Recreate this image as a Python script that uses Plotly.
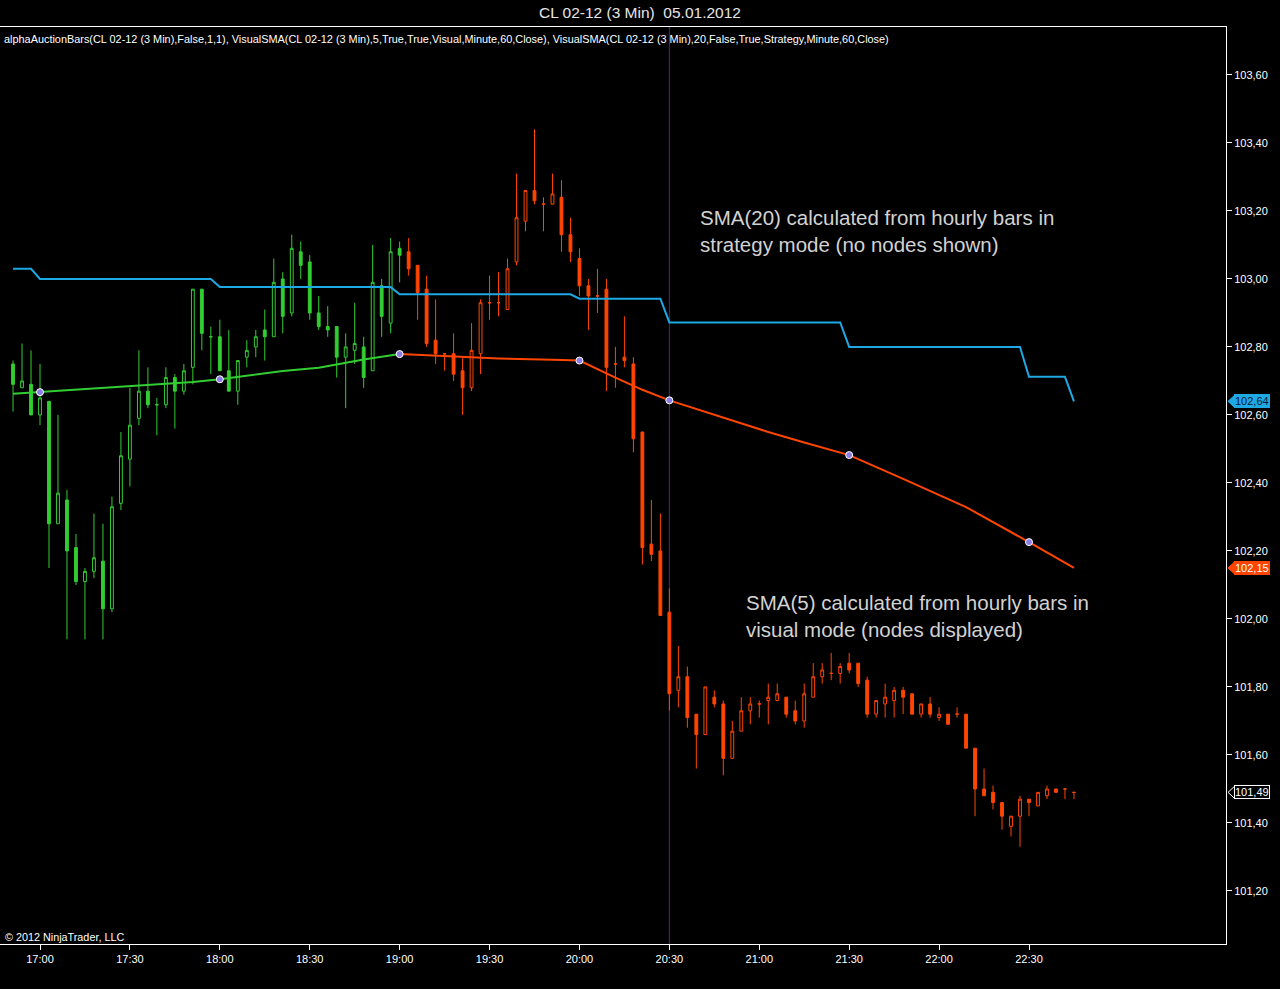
import pandas as pd
import plotly.graph_objects as go

# ---------------- data ----------------
bar_times = pd.date_range("2012-01-05 16:51", periods=119, freq="3min")

opens = [102.75,102.68,102.69,102.60,102.64,102.28,102.35,102.21,102.11,102.14,
         102.17,102.03,102.34,102.47,102.59,102.67,102.63,102.63,102.71,102.67,
         102.74,102.97,102.83,102.83,102.73,102.67,102.77,102.80,102.85,102.83,
         103.00,102.90,103.08,103.05,102.90,102.86,102.86,102.77,102.79,102.80,
         102.73,102.98,102.87,103.09,103.08,103.04,102.97,102.82,102.78,102.78,
         102.73,102.68,102.78,102.93,102.93,102.91,103.05,103.17,103.26,103.22,
         103.22,103.24,103.13,103.06,102.98,102.95,102.97,102.75,102.77,102.75,
         102.55,102.22,102.20,102.02,101.79,101.83,101.72,101.66,101.77,101.75,
         101.59,101.67,101.73,101.75,101.76,101.76,101.77,101.73,101.70,101.77,
         101.83,101.84,101.84,101.87,101.87,101.82,101.72,101.75,101.76,101.79,
         101.78,101.72,101.75,101.71,101.72,101.72,101.72,101.62,101.50,101.49,
         101.46,101.39,101.42,101.47,101.45,101.48,101.50,101.50,101.49]
highs = [102.76,102.81,102.79,102.75,102.64,102.60,102.38,102.25,102.15,102.31,
         102.28,102.36,102.55,102.68,102.79,102.74,102.65,102.74,102.72,102.75,
         102.97,102.97,102.86,102.88,102.85,102.76,102.82,102.85,102.91,103.06,
         103.02,103.13,103.11,103.07,102.95,102.92,102.86,102.84,102.93,102.83,
         103.10,103.00,103.12,103.11,103.12,103.04,103.01,102.94,102.78,102.84,
         102.77,102.87,102.94,103.01,103.02,103.06,103.31,103.26,103.44,103.24,
         103.31,103.29,103.18,103.09,103.00,103.03,103.00,102.80,102.89,102.77,
         102.55,102.35,102.31,102.09,101.92,101.86,101.72,101.80,101.79,101.76,
         101.70,101.77,101.77,101.76,101.81,101.81,101.77,101.76,101.81,101.87,
         101.87,101.90,101.87,101.90,101.87,101.83,101.76,101.81,101.80,101.80,
         101.78,101.75,101.77,101.74,101.72,101.74,101.72,101.62,101.56,101.51,
         101.46,101.42,101.48,101.47,101.49,101.51,101.50,101.50,101.49]
lows = [102.61,102.68,102.60,102.57,102.15,102.28,101.94,102.10,101.94,102.12,
        101.94,102.02,102.32,102.39,102.57,102.62,102.54,102.62,102.56,102.66,
        102.69,102.79,102.72,102.73,102.67,102.63,102.74,102.77,102.76,102.83,
        102.84,102.89,103.00,102.88,102.85,102.83,102.71,102.62,102.75,102.68,
        102.73,102.83,102.84,102.99,103.01,102.88,102.80,102.75,102.73,102.70,
        102.60,102.67,102.72,102.88,102.89,102.91,103.04,103.14,103.22,103.14,
        103.22,103.08,103.05,102.95,102.85,102.90,102.67,102.68,102.74,102.49,
        102.16,102.17,102.01,101.73,101.74,101.68,101.56,101.66,101.74,101.54,
        101.59,101.67,101.69,101.71,101.69,101.76,101.71,101.69,101.68,101.77,
        101.81,101.82,101.81,101.84,101.80,101.71,101.71,101.71,101.71,101.72,
        101.72,101.71,101.71,101.70,101.69,101.71,101.62,101.42,101.48,101.44,
        101.38,101.36,101.33,101.42,101.45,101.47,101.49,101.47,101.47]
closes = [102.69,102.70,102.60,102.65,102.28,102.37,102.20,102.11,102.14,102.18,
          102.03,102.33,102.48,102.57,102.67,102.63,102.63,102.71,102.67,102.73,
          102.97,102.84,102.83,102.73,102.67,102.76,102.79,102.83,102.83,102.99,
          102.89,103.09,103.04,102.90,102.86,102.85,102.77,102.80,102.81,102.71,
          102.99,102.89,103.08,103.07,103.03,102.96,102.81,102.78,102.78,102.72,
          102.68,102.79,102.93,102.93,102.93,103.03,103.18,103.26,103.23,103.22,
          103.25,103.13,103.08,102.98,102.95,102.95,102.74,102.75,102.76,102.53,
          102.21,102.19,102.01,101.78,101.83,101.71,101.66,101.80,101.75,101.59,
          101.67,101.73,101.75,101.75,101.77,101.78,101.72,101.70,101.78,101.83,
          101.85,101.84,101.86,101.85,101.81,101.72,101.76,101.77,101.79,101.77,
          101.72,101.75,101.72,101.72,101.69,101.72,101.62,101.50,101.48,101.46,
          101.42,101.42,101.47,101.46,101.49,101.50,101.49,101.50,101.49]

color_switch = 44  # bars before this index are drawn green, after orange

# SMA(5) visual mode (read at selected bars)
sma5_green_idx = [0, 3, 10, 14, 20, 23, 30, 34, 39, 43]
sma5_green_val = [102.662, 102.667, 102.680, 102.686, 102.697, 102.705, 102.729, 102.739, 102.763, 102.779]
sma5_orange_idx = [43, 47, 54, 60, 63, 67, 70, 73, 77, 80, 84, 88, 93, 99, 106, 113, 118]
sma5_orange_val = [102.779, 102.774, 102.766, 102.762, 102.760, 102.710, 102.674, 102.643, 102.609,
                   102.583, 102.550, 102.519, 102.482, 102.412, 102.329, 102.226, 102.150]
node_idx = [3, 23, 43, 63, 73, 93, 113]
node_val = [102.667, 102.705, 102.779, 102.760, 102.643, 102.482, 102.226]

# SMA(20) strategy mode (vertices of the step line)
sma20_idx = [0, 2, 3, 22, 23, 42, 43, 62, 63, 72, 73, 92, 93, 112, 113, 117, 118]
sma20_val = [103.03, 103.03, 103.00, 103.00, 102.976, 102.976, 102.955, 102.955, 102.942, 102.942,
             102.872, 102.872, 102.80, 102.80, 102.712, 102.712, 102.64]

y_ticks = [101.20, 101.40, 101.60, 101.80, 102.00, 102.20, 102.40, 102.60, 102.80, 103.00, 103.20, 103.40, 103.60]
x_ticks = ["2012-01-05 17:00", "2012-01-05 17:30", "2012-01-05 18:00", "2012-01-05 18:30",
           "2012-01-05 19:00", "2012-01-05 19:30", "2012-01-05 20:00", "2012-01-05 20:30",
           "2012-01-05 21:00", "2012-01-05 21:30", "2012-01-05 22:00", "2012-01-05 22:30"]
x_tick_text = ["17:00", "17:30", "18:00", "18:30", "19:00", "19:30", "20:00", "20:30",
               "21:00", "21:30", "22:00", "22:30"]
price_marks = [102.64, 102.15, 101.49]

# ---------------- styling ----------------
GREEN = "#32CD32"
ORANGE = "#FF4500"
BLUE = "#1EA8E4"
FONT = "Liberation Sans, Arial, sans-serif"

fig = go.Figure()

def candles(sl, col):
    return go.Candlestick(
        x=bar_times[sl], open=opens[sl], high=highs[sl], low=lows[sl], close=closes[sl],
        increasing=dict(line=dict(color=col, width=1), fillcolor="rgba(0,0,0,1)"),
        decreasing=dict(line=dict(color=col, width=1), fillcolor=col),
        whiskerwidth=0, showlegend=False, hoverinfo="skip",
    )

fig.add_trace(candles(slice(0, color_switch), GREEN))
fig.add_trace(candles(slice(color_switch, len(opens)), ORANGE))

fig.add_trace(go.Scatter(x=bar_times[sma20_idx], y=sma20_val, mode="lines",
                         line=dict(color=BLUE, width=2), showlegend=False, hoverinfo="skip"))
fig.add_trace(go.Scatter(x=bar_times[sma5_green_idx], y=sma5_green_val, mode="lines",
                         line=dict(color=GREEN, width=2), showlegend=False, hoverinfo="skip"))
fig.add_trace(go.Scatter(x=bar_times[sma5_orange_idx], y=sma5_orange_val, mode="lines",
                         line=dict(color=ORANGE, width=2), showlegend=False, hoverinfo="skip"))
fig.add_trace(go.Scatter(x=bar_times[node_idx], y=node_val, mode="markers",
                         marker=dict(size=7, color="#8C7CE6", line=dict(color="white", width=1)),
                         showlegend=False, hoverinfo="skip"))

PLOT_W = 1226.0
shapes = [
    dict(type="line", xref="x", yref="paper", x0=bar_times[73], x1=bar_times[73], y0=0, y1=1,
         line=dict(color="#5a1f80", width=1), layer="below"),
]
annotations = []
mark_styles = [
    (BLUE, "#0a1a3a", BLUE),
    (ORANGE, "white", ORANGE),
    ("black", "white", "white"),
]
half = 6.5 / 340.0
for val, (bg, fg, border) in zip(price_marks, mark_styles):
    tip = 1228 / PLOT_W
    base = 1235 / PLOT_W
    shapes.append(dict(type="path", xref="paper", yref="y",
                       path=f"M {tip},{val} L {base},{val + half} L {base},{val - half} Z",
                       fillcolor=bg, line=dict(color=border, width=1)))
    annotations.append(dict(x=1, xref="paper", y=val, yref="y", xanchor="left", yanchor="middle",
                            xshift=8, text=f"{val:.2f}".replace(".", ","), showarrow=False,
                            bgcolor=bg, bordercolor=border, borderwidth=1, borderpad=0,
                            font=dict(family=FONT, size=11, color=fg)))

annotations += [
    dict(x=2 / PLOT_W, xref="paper", y=1 - 12 / 917, yref="paper", xanchor="left", yanchor="middle",
         showarrow=False, font=dict(family=FONT, size=10.9, color="white"),
         text="alphaAuctionBars(CL 02-12 (3 Min),False,1,1), VisualSMA(CL 02-12 (3 Min),5,True,True,Visual,Minute,60,Close), VisualSMA(CL 02-12 (3 Min),20,False,True,Strategy,Minute,60,Close)"),
    dict(x=3 / PLOT_W, xref="paper", y=7 / 917, yref="paper", xanchor="left", yanchor="middle",
         showarrow=False, font=dict(family=FONT, size=10.8, color="white"),
         text="© 2012 NinjaTrader, LLC"),
    dict(x=698 / PLOT_W, xref="paper", y=1 - (230.5 - 27) / 917, yref="paper", xanchor="left", yanchor="middle",
         align="left", showarrow=False, font=dict(family=FONT, size=20.5, color="#d2d2d2"),
         text="SMA(20) calculated from hourly bars in<br>strategy mode (no nodes shown)"),
    dict(x=744 / PLOT_W, xref="paper", y=1 - (616 - 27) / 917, yref="paper", xanchor="left", yanchor="middle",
         align="left", showarrow=False, font=dict(family=FONT, size=20.5, color="#d2d2d2"),
         text="SMA(5) calculated from hourly bars in<br>visual mode (nodes displayed)"),
]

fig.update_layout(
    width=1280, height=989,
    margin=dict(l=0, r=54, t=27, b=45),
    paper_bgcolor="black", plot_bgcolor="black",
    separators=",.",
    boxgap=0.55,
    title=dict(text="CL 02-12 (3 Min)  05.01.2012", x=0.5, xanchor="center", y=1 - 13 / 989,
               yanchor="middle", font=dict(family=FONT, size=15.5, color="#e6e6e6")),
    font=dict(family=FONT, color="white", size=11),
    shapes=shapes, annotations=annotations,
    xaxis=dict(
        type="date", range=["2012-01-05 16:46:39", "2012-01-05 23:35:44"],
        rangeslider=dict(visible=False),
        showgrid=False, zeroline=False, showline=True, linecolor="white", linewidth=1, mirror=True,
        ticks="outside", ticklen=5, tickcolor="white",
        tickvals=x_ticks, ticktext=x_tick_text,
        tickfont=dict(family=FONT, size=11, color="white"),
    ),
    yaxis=dict(
        side="right", range=[101.044, 103.741], showgrid=False, zeroline=False,
        showline=True, linecolor="white", linewidth=1,
        ticks="outside", ticklen=5, tickcolor="white",
        tickvals=y_ticks, ticktext=[f"{v:.2f}".replace(".", ",") for v in y_ticks],
        tickfont=dict(family=FONT, size=11, color="white"),
    ),
)

fig.write_html("out.html", config={"displayModeBar": False},
               post_script="document.body.style.margin='0';document.body.style.overflow='hidden';")
